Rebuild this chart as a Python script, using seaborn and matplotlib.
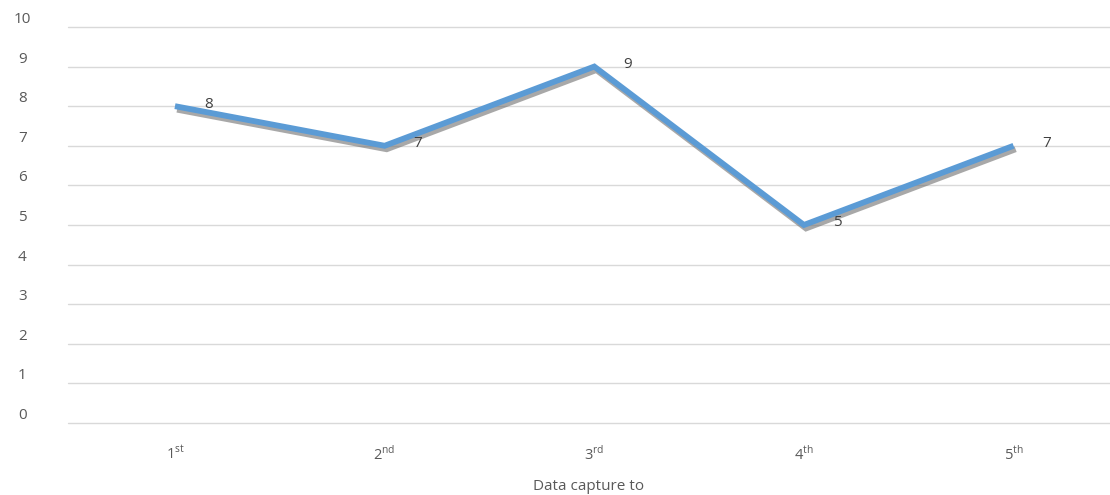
import matplotlib
matplotlib.use("Agg")
import matplotlib.pyplot as plt
import matplotlib.patheffects as pe
import seaborn as sns
import pandas as pd

# Capture rounds and their counts
rounds = ["1st", "2nd", "3rd", "4th", "5th"]
counts = [8, 7, 9, 5, 7]
round_labels = [r"1$^{\mathrm{st}}$", r"2$^{\mathrm{nd}}$", r"3$^{\mathrm{rd}}$",
                r"4$^{\mathrm{th}}$", r"5$^{\mathrm{th}}$"]
y_ticks = list(range(0, 11))

sns.set_theme(style="white")
plt.rcParams["font.family"] = ["Open Sans", "DejaVu Sans"]
plt.rcParams["mathtext.fontset"] = "custom"
plt.rcParams["mathtext.rm"] = "Open Sans"

df = pd.DataFrame({"idx": range(len(rounds)), "round": rounds, "count": counts})

fig = plt.figure(figsize=(11.1, 4.95), dpi=100)
ax = fig.add_axes([0.0613, 0.1455, 0.9387, 0.80])

sns.lineplot(data=df, x="idx", y="count", ax=ax, color="#5B9BD5", linewidth=4.2,
             sort=False, zorder=3)
line = ax.lines[0]
line.set_solid_joinstyle("miter")
line.set_solid_capstyle("butt")
line.set_path_effects([
    pe.SimpleLineShadow(offset=(1.5, -2.5), shadow_color="#6f6f6f", alpha=0.6),
    pe.Normal(),
])

for i, v in enumerate(counts):
    ax.annotate(str(v), (i, v), xytext=(24, 1.5), textcoords="offset points",
                ha="center", va="center", fontsize=11, color="#404040")

ax.set_ylim(0, 10)
ax.set_xlim(-0.51, 4.46)
ax.set_yticks(y_ticks)
ax.set_yticklabels([str(t) for t in y_ticks])
ax.set_xticks(range(len(rounds)))
ax.set_xticklabels(round_labels)
ax.grid(axis="y", color="#d9d9d9", linewidth=1.0)
ax.grid(axis="x", visible=False)
for gl in ax.yaxis.get_gridlines():
    gl.set_clip_on(False)
for s in ax.spines.values():
    s.set_visible(False)
ax.tick_params(axis="y", length=0, pad=33, labelsize=11, labelcolor="#595959")
ax.tick_params(axis="x", length=0, pad=16, labelsize=10.5, labelcolor="#595959")
for lab in ax.get_yticklabels():
    lab.set_horizontalalignment("center")
    lab.set_verticalalignment("bottom")
ax.set_xlabel("Data capture to", fontsize=11, color="#595959", labelpad=11)
ax.set_ylabel("")

fig.savefig("out.png", dpi=100)
